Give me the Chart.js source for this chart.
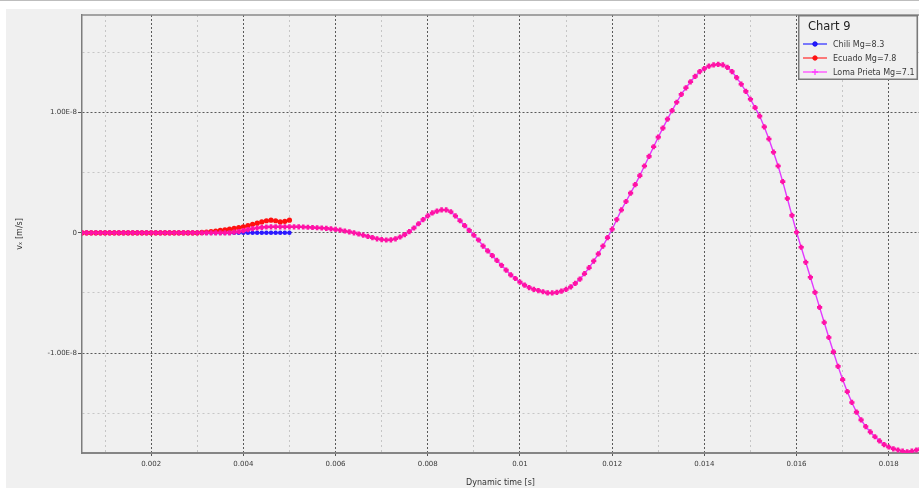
<!DOCTYPE html>
<html>
<head>
<meta charset="utf-8">
<title>Chart 9</title>
<script src="https://cdn.jsdelivr.net/npm/chart.js@4/dist/chart.umd.min.js"></script>
<style>
  html, body { margin: 0; padding: 0; background: #ffffff; overflow: hidden; }
  #wrap { width: 919px; height: 488px; position: relative; }
  canvas { display: block; }
</style>
</head>
<body>
<div id="wrap"><canvas id="chart" width="919" height="488"></canvas></div>
<script>
// ---- chart content -------------------------------------------------------
const chartTitle = 'Chart 9';
const seriesNames = ['Chili Mg=8.3', 'Ecuado Mg=7.8', 'Loma Prieta Mg=7.1'];
const xAxisTitle = 'Dynamic time [s]';
const yAxisTitle = 'vₓ [m/s]';

// samples are taken every timeStep seconds starting at timeStart
const timeStart = 0.0005;
const timeStep = 0.0001;
// velocities below are given in units of 1E-8 m/s
const valueUnit = 1e-8;

// Chili: 0.0005 s .. 0.0050 s
const chiliValues = [
  0, 0, 0, 0, 0,
  0, 0, 0, 0, 0, 0, 0, 0, 0, 0,
  0, 0, 0, 0, 0, 0, 0, 0, 0, 0,
  0, 0, 0, 0, 0, 0, 0, 0, 0, 0,
  0, 0, 0, 0, 0, 0, 0, 0, 0, 0,
  0
];

// Ecuado: 0.0005 s .. 0.0050 s
const ecuadoValues = [
  0, 0, 0, 0, 0,
  0, 0, 0, 0, 0, 0, 0, 0, 0, 0,
  0, 0, 0, 0, 0, 0, 0, 0, 0, 0,
  0, 0.003, 0.006, 0.01, 0.015, 0.02, 0.025, 0.03, 0.036, 0.043,
  0.05, 0.06, 0.07, 0.08, 0.09, 0.1, 0.105, 0.1, 0.09, 0.095,
  0.105
];

// Loma Prieta: 0.0005 s .. 0.0187 s
const lomaPrietaValues = [
  0, 0, 0, 0, 0,
  0, 0, 0, 0, 0, 0, 0, 0, 0, 0,
  0, 0, 0, 0, 0, 0, 0, 0, 0, 0,
  0, 0, 0, 0, 0, 0, 0, 0, 0.005, 0.01,
  0.018, 0.026, 0.034, 0.04, 0.045, 0.048, 0.05, 0.05, 0.05, 0.05,
  0.05, 0.05, 0.05, 0.048, 0.046, 0.044, 0.042, 0.04, 0.037, 0.033,
  0.028, 0.022, 0.015, 0.008, 0, -0.01, -0.02, -0.03, -0.04, -0.05,
  -0.056, -0.06, -0.058, -0.05, -0.035, -0.015, 0.01, 0.04, 0.075, 0.11,
  0.14, 0.165, 0.18, 0.19, 0.19, 0.175, 0.14, 0.1, 0.06, 0.02,
  -0.02, -0.06, -0.11, -0.15, -0.19, -0.23, -0.27, -0.31, -0.35, -0.38,
  -0.41, -0.435, -0.455, -0.47, -0.48, -0.49, -0.5, -0.5, -0.495, -0.485,
  -0.47, -0.45, -0.42, -0.385, -0.34, -0.29, -0.235, -0.175, -0.11, -0.04,
  0.03, 0.11, 0.19, 0.26, 0.33, 0.4, 0.475, 0.555, 0.635, 0.715,
  0.795, 0.87, 0.945, 1.015, 1.085, 1.15, 1.205, 1.255, 1.3, 1.34,
  1.365, 1.385, 1.395, 1.4, 1.395, 1.375, 1.34, 1.29, 1.235, 1.175,
  1.11, 1.04, 0.97, 0.88, 0.78, 0.67, 0.555, 0.425, 0.285, 0.145,
  0.005, -0.12, -0.245, -0.37, -0.495, -0.62, -0.745, -0.87, -0.99, -1.11,
  -1.22, -1.32, -1.41, -1.49, -1.555, -1.61, -1.655, -1.695, -1.73, -1.76,
  -1.78, -1.795, -1.805, -1.815, -1.82, -1.815, -1.805, -1.79
];

// axis ticks
const xMajorTicks  = [0.002, 0.004, 0.006, 0.008, 0.01, 0.012, 0.014, 0.016, 0.018];
const xMajorLabels = ['0.002', '0.004', '0.006', '0.008', '0.01', '0.012', '0.014', '0.016', '0.018'];
const xMinorTicks  = [0.001, 0.003, 0.005, 0.007, 0.009, 0.011, 0.013, 0.015, 0.017];
const yMajorTicks  = [-1e-8, 0, 1e-8];
const yMajorLabels = ['-1.00E-8', '0', '1.00E-8'];
const yMinorTicks  = [-1.5e-8, -0.5e-8, 0.5e-8, 1.5e-8];
const xRange = [0.0005, 0.018656];
const yRange = [-1.83e-8, 1.81e-8];

// ---- helpers ---------------------------------------------------------------
const FONT = '"DejaVu Sans", sans-serif';
Chart.defaults.font.family = FONT;

function toPoints(values) {
  return values.map((v, i) => ({ x: timeStart + i * timeStep, y: v * valueUnit }));
}
function indexIn(list, value, eps) {
  return list.findIndex(t => Math.abs(t - value) < eps);
}
const isMajorX = v => indexIn(xMajorTicks, v, 1e-9) >= 0;
const isMajorY = v => indexIn(yMajorTicks, v, 1e-13) >= 0;

function gridColor(isMajor) {
  return ctx => (ctx.tick && isMajor(ctx.tick.value)) ? '#5a5a5a' : '#c6c6c6';
}
function gridDash(isMajor) {
  return ctx => {
    if (ctx.type !== 'tick' || !ctx.tick) return [];
    return isMajor(ctx.tick.value) ? [2, 2] : [2, 3];
  };
}
function tickMarkColor(isMajor) {
  return ctx => (ctx.tick && isMajor(ctx.tick.value)) ? '#555555' : 'rgba(0,0,0,0)';
}

// ---- panel, frame and legend ----------------------------------------------
const panelPlugin = {
  id: 'panel',
  beforeDraw(chart) {
    const { ctx, width, height } = chart;
    ctx.save();
    ctx.fillStyle = '#ffffff';
    ctx.fillRect(0, 0, width, height);
    ctx.fillStyle = '#f0f0f0';
    ctx.fillRect(6, 9, width - 6, height - 9);
    ctx.fillStyle = '#bdbdbd';
    ctx.fillRect(0, 0, width, 1);
    ctx.restore();
  },
  afterDraw(chart) {
    const { ctx, chartArea } = chart;
    ctx.save();
    // upper edge of the plot frame
    ctx.strokeStyle = '#8a8a8a';
    ctx.lineWidth = 1.5;
    ctx.beginPath();
    ctx.moveTo(chartArea.left, chartArea.top);
    ctx.lineTo(chartArea.right, chartArea.top);
    ctx.stroke();

    // legend box with title
    const bx = 798, by = 15, bw = 120, bh = 65;
    ctx.fillStyle = '#f0f0f0';
    ctx.fillRect(bx, by, bw, bh);
    ctx.strokeStyle = '#7a7a7a';
    ctx.lineWidth = 1.5;
    ctx.strokeRect(bx + 0.75, by + 0.75, bw - 1.5, bh - 1.5);

    ctx.fillStyle = '#1e1e1e';
    ctx.font = '11.5px ' + FONT;
    ctx.textBaseline = 'middle';
    ctx.textAlign = 'left';
    ctx.fillText(chartTitle, 808, 27);

    chart.data.datasets.forEach((ds, i) => {
      const y = 44 + i * 14;
      ctx.strokeStyle = ds.legendLineColor;
      ctx.lineWidth = 1.5;
      ctx.beginPath();
      ctx.moveTo(803, y);
      ctx.lineTo(827, y);
      ctx.stroke();
      ctx.fillStyle = ds.pointBackgroundColor;
      ctx.strokeStyle = ds.legendMarkColor;
      ctx.lineWidth = ds.pointStyle === 'cross' ? 1.3 : 1;
      Chart.helpers.drawPoint(ctx, {
        pointStyle: ds.pointStyle, radius: ds.pointStyle === 'cross' ? 3 : 2.2,
        rotation: 0, borderWidth: ctx.lineWidth
      }, 815, y);
      ctx.fillStyle = '#3a3a3a';
      ctx.font = '8px ' + FONT;
      ctx.fillText(ds.label, 833, y + 0.5);
    });
    ctx.restore();
  }
};

// ---- chart ------------------------------------------------------------------
new Chart(document.getElementById('chart'), {
  type: 'line',
  data: {
    datasets: [
      {
        label: seriesNames[0],
        data: toPoints(chiliValues),
        borderColor: '#3a2cff',
        borderWidth: 1.5,
        pointStyle: 'circle',
        pointRadius: 2.2,
        pointBorderWidth: 0,
        pointBackgroundColor: '#2a18ff',
        legendLineColor: '#5050ff',
        legendMarkColor: '#1010ee',
        order: 2
      },
      {
        label: seriesNames[1],
        data: toPoints(ecuadoValues),
        borderColor: '#ff2020',
        borderWidth: 1.5,
        pointStyle: 'circle',
        pointRadius: 2.6,
        pointBorderWidth: 0,
        pointBackgroundColor: '#ff1010',
        legendLineColor: '#ff5050',
        legendMarkColor: '#ff1010',
        order: 1
      },
      {
        label: seriesNames[2],
        data: toPoints(lomaPrietaValues),
        borderColor: '#e238ff',
        borderWidth: 1.4,
        pointStyle: 'cross',
        pointRadius: 2.6,
        pointBorderWidth: 2.6,
        pointBorderColor: '#ff12a6',
        pointBackgroundColor: '#ff12a6',
        legendLineColor: '#ff60ff',
        legendMarkColor: '#ff40ff',
        order: 0
      }
    ]
  },
  options: {
    responsive: false,
    animation: false,
    events: [],
    layout: { autoPadding: false, padding: { top: 15, left: 0, right: 0, bottom: 0 } },
    elements: { line: { tension: 0 } },
    plugins: {
      legend: { display: false },
      title: { display: false },
      tooltip: { enabled: false }
    },
    scales: {
      x: {
        type: 'linear',
        min: xRange[0],
        max: xRange[1],
        afterBuildTicks: axis => {
          axis.ticks = [...xMinorTicks, ...xMajorTicks].sort((a, b) => a - b).map(v => ({ value: v }));
        },
        afterFit: scale => {
          scale.height = 35;
          scale.paddingLeft = 0;
          scale.paddingRight = 0;
        },
        ticks: {
          autoSkip: false,
          maxRotation: 0,
          padding: 4,
          color: '#3a3a3a',
          font: { size: 7 },
          callback: value => {
            const k = indexIn(xMajorTicks, value, 1e-9);
            return k >= 0 ? xMajorLabels[k] : '';
          }
        },
        grid: {
          color: gridColor(isMajorX),
          lineWidth: 1,
          tickLength: 3,
          tickColor: tickMarkColor(isMajorX)
        },
        border: { display: true, color: '#858585', width: 2, dash: gridDash(isMajorX) },
        title: {
          display: true,
          text: xAxisTitle,
          color: '#333333',
          font: { size: 8 },
          padding: { top: 0, bottom: 0 }
        }
      },
      y: {
        type: 'linear',
        min: yRange[0],
        max: yRange[1],
        afterBuildTicks: axis => {
          axis.ticks = [...yMinorTicks, ...yMajorTicks].sort((a, b) => a - b).map(v => ({ value: v }));
        },
        afterFit: scale => {
          scale.width = 82;
          scale.paddingTop = 0;
          scale.paddingBottom = 0;
        },
        ticks: {
          padding: 1,
          color: '#3a3a3a',
          font: { size: 7 },
          callback: value => {
            const k = indexIn(yMajorTicks, value, 1e-13);
            return k >= 0 ? yMajorLabels[k] : '';
          }
        },
        grid: {
          color: gridColor(isMajorY),
          lineWidth: 1,
          tickLength: 4,
          tickColor: tickMarkColor(isMajorY)
        },
        border: { display: true, color: '#7d7d7d', width: 1.5, dash: gridDash(isMajorY) },
        title: {
          display: true,
          text: yAxisTitle,
          color: '#333333',
          font: { size: 8 },
          padding: { top: 15, bottom: 0 }
        }
      }
    }
  },
  plugins: [panelPlugin]
});
</script>
</body>
</html>
